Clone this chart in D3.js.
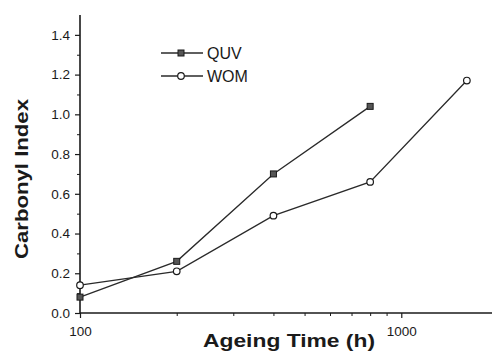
<!DOCTYPE html>
<html>
<head>
<meta charset="utf-8">
<script src="https://cdn.jsdelivr.net/npm/d3@7"></script>
<style>
  html, body { margin: 0; padding: 0; background: #fff; }
  svg { display: block; font-family: "Liberation Sans", Arial, sans-serif; }
</style>
</head>
<body>
<svg id="chart" width="492" height="354"></svg>
<script>
// Ageing time (h) and carbonyl index for the two exposure methods
const quvHours = [100, 200, 400, 800];
const quvIndex = [0.08, 0.26, 0.70, 1.04];
const womHours = [100, 200, 400, 800, 1600];
const womIndex = [0.14, 0.21, 0.49, 0.66, 1.17];
const yTicks = [0, 0.2, 0.4, 0.6, 0.8, 1.0, 1.2, 1.4];
const xTicks = [100, 1000];
const seriesNames = ["QUV", "WOM"];

const svg = d3.select("#chart");
const ink = "#1a1a1a";

const x = d3.scaleLog().domain([100, 2000]).range([80, 498]);
const y = d3.scaleLinear().domain([0, 1.5]).range([313, 15]);

// Y axis with major and minor ticks
const yAxis = svg.append("g").attr("transform", `translate(${x.range()[0]},0)`)
  .call(d3.axisLeft(y).tickValues(yTicks).tickFormat(d3.format(".1f")).tickSize(5).tickSizeOuter(0));
yAxis.select(".domain").attr("stroke", ink).attr("stroke-width", 1.6).attr("d", `M0,${y(0)}V${y.range()[1]}`);
yAxis.selectAll(".tick line").attr("stroke", ink).attr("stroke-width", 1.2);
yAxis.selectAll(".tick text").attr("fill", ink).style("font-size", "13.5px").attr("x", -10);
svg.append("g").attr("transform", `translate(${x.range()[0]},0)`)
  .call(d3.axisLeft(y).tickValues(d3.range(0.1, 1.5, 0.2)).tickSize(3).tickFormat(""))
  .call(g => g.select(".domain").remove())
  .selectAll("line").attr("stroke", ink);

// X axis (log) with decade labels and minor ticks
const xAxis = svg.append("g").attr("transform", `translate(0,${y(0)})`)
  .call(d3.axisBottom(x).tickValues(xTicks).tickFormat(d3.format("d")).tickSize(5).tickSizeOuter(0));
xAxis.select(".domain").attr("stroke", ink).attr("stroke-width", 1.6).attr("d", `M${x(100)},0H492`);
xAxis.selectAll(".tick line").attr("stroke", ink).attr("stroke-width", 1.2);
xAxis.selectAll(".tick text").attr("fill", ink).style("font-size", "13.5px").attr("y", 13);
svg.append("g").attr("transform", `translate(0,${y(0)})`)
  .call(d3.axisBottom(x).tickValues([200, 300, 400, 500, 600, 700, 800, 900, 2000]).tickSize(3).tickFormat(""))
  .call(g => g.select(".domain").remove())
  .selectAll("line").attr("stroke", ink);

// Axis titles
svg.append("text").attr("x", 289).attr("y", 347).attr("text-anchor", "middle")
  .attr("textLength", 172).attr("lengthAdjust", "spacingAndGlyphs")
  .attr("fill", ink).style("font-size", "19px").style("font-weight", "bold").text("Ageing Time (h)");
svg.append("text").attr("transform", "translate(28,179) rotate(-90)").attr("text-anchor", "middle")
  .attr("textLength", 160).attr("lengthAdjust", "spacingAndGlyphs")
  .attr("fill", ink).style("font-size", "19px").style("font-weight", "bold").text("Carbonyl Index");

const line = d3.line().x(d => x(d[0])).y(d => y(d[1]));
const quv = quvHours.map((h, i) => [h, quvIndex[i]]);
const wom = womHours.map((h, i) => [h, womIndex[i]]);

[quv, wom].forEach(data => {
  svg.append("path").datum(data).attr("d", line)
    .attr("fill", "none").attr("stroke", "#2a2a2a").attr("stroke-width", 1.3);
});

function squareMarker(g, cx, cy) {
  g.append("rect").attr("x", cx - 3).attr("y", cy - 3).attr("width", 6).attr("height", 6)
    .attr("fill", "#555").attr("stroke", ink).attr("stroke-width", 1);
}
function circleMarker(g, cx, cy) {
  g.append("circle").attr("cx", cx).attr("cy", cy).attr("r", 3.3)
    .attr("fill", "#fff").attr("stroke", ink).attr("stroke-width", 1.2);
}

const marks = svg.append("g");
quv.forEach(d => squareMarker(marks, x(d[0]), y(d[1])));
wom.forEach(d => circleMarker(marks, x(d[0]), y(d[1])));

// Legend
const legend = svg.append("g");
[squareMarker, circleMarker].forEach((mk, i) => {
  const ly = 53 + i * 23;
  legend.append("line").attr("x1", 161).attr("x2", 203).attr("y1", ly).attr("y2", ly)
    .attr("stroke", "#2a2a2a").attr("stroke-width", 1.3);
  mk(legend, 181, ly);
  legend.append("text").attr("x", 207).attr("y", ly + 6).attr("fill", ink)
    .style("font-size", "16px").text(seriesNames[i]);
});
</script>
</body>
</html>
